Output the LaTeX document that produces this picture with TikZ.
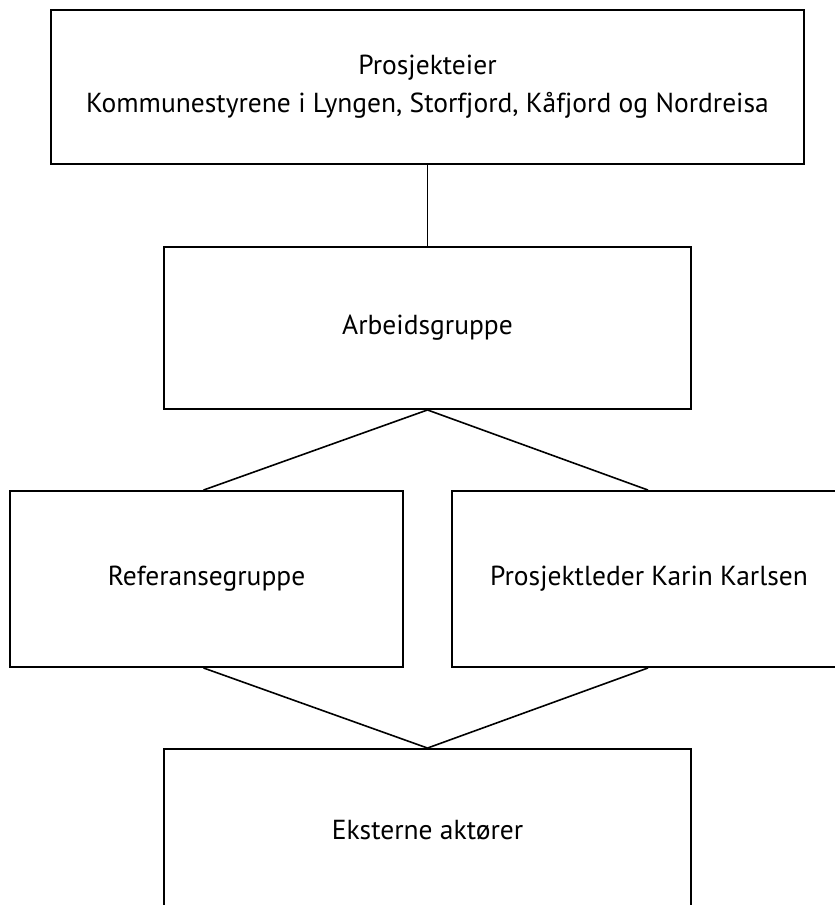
\documentclass[tikz,border=0pt]{standalone}
\usepackage{fontspec}
\setmainfont{PT Sans}
\begin{document}
\begin{tikzpicture}[x=1pt,y=-1pt,
  box/.style={draw=black,line width=1.9pt,inner sep=0pt,align=center,font=\fontsize{27.5}{38}\selectfont},
  conn/.style={draw=black,line width=1.6pt}]
\useasboundingbox (0,0) rectangle (835,905);
\fill[white] (0,0) rectangle (835,905);
\clip (0,0) rectangle (835,905);
\node[box,minimum width=753pt,minimum height=154pt] (top) at (427.5,87) {Prosjekteier\\Kommunestyrene i Lyngen, Storfjord, Kåfjord og Nordreisa};
\node[box,minimum width=527pt,minimum height=162pt] (arb) at (427.5,328) {Arbeidsgruppe};
\node[box,minimum width=393pt,minimum height=176pt] (ref) at (206.5,579) {Referansegruppe};
\node[box,minimum width=394pt,minimum height=176pt] (pl) at (649,579) {Prosjektleder Karin Karlsen};
\node[box,minimum width=527pt,minimum height=162pt] (ext) at (427.5,830) {Eksterne aktører};
\draw[conn] (top.south) -- (arb.north);
\draw[conn] (arb.south) -- ([xshift=-3pt]ref.north);
\draw[conn] (arb.south) -- ([xshift=-1pt]pl.north);
\draw[conn] ([xshift=-3pt]ref.south) -- (ext.north);
\draw[conn] ([xshift=-1pt]pl.south) -- (ext.north);
\end{tikzpicture}
\end{document}
